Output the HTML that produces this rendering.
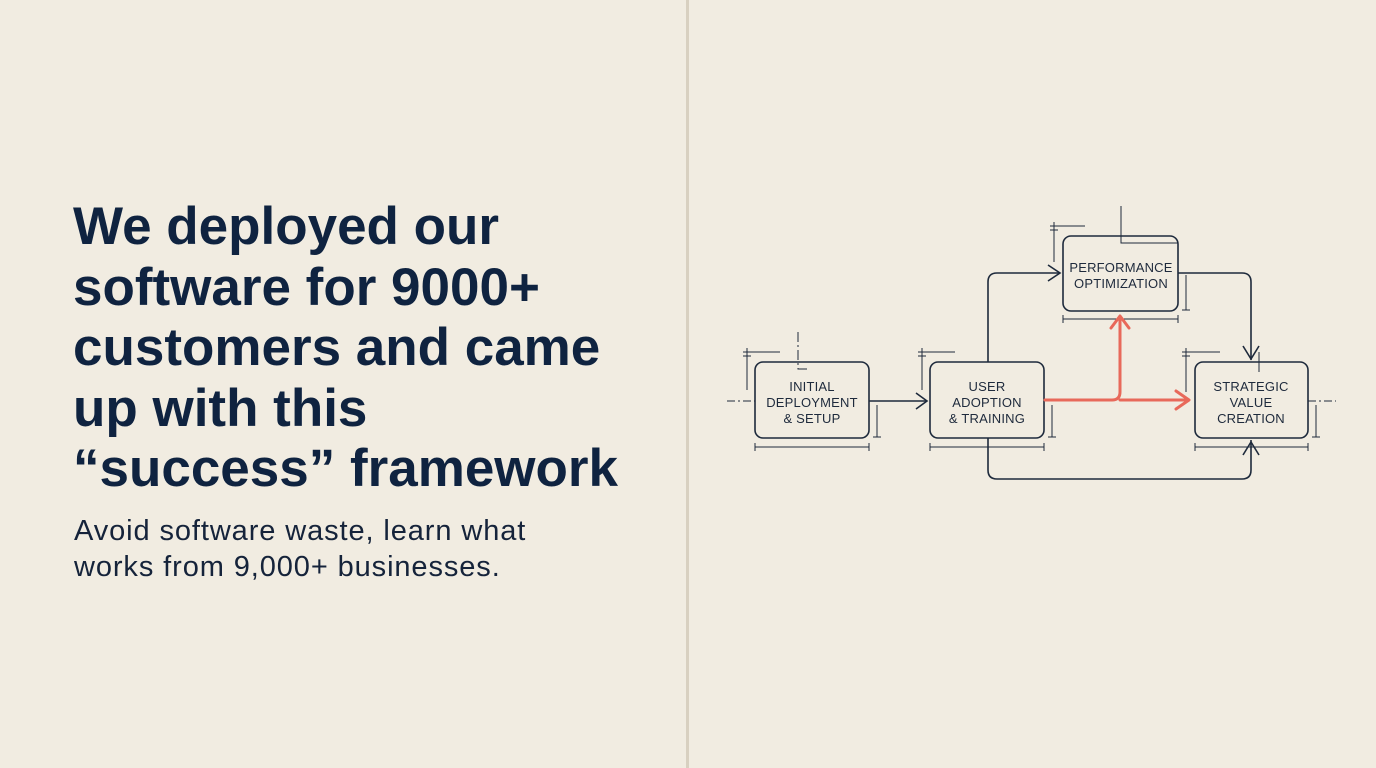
<!DOCTYPE html>
<html><head><meta charset="utf-8"><style>
html,body{margin:0;padding:0;}
body{width:1376px;height:768px;background:#f1ece1;position:relative;overflow:hidden;font-family:"Liberation Sans",sans-serif;}
.t{position:absolute;left:73px;top:197px;font-size:53px;font-weight:bold;line-height:60.5px;color:#0f2340;letter-spacing:0px;white-space:nowrap;}
.s{position:absolute;left:74px;top:513px;font-size:29px;line-height:36px;color:#15233a;letter-spacing:0.9px;white-space:nowrap;}
.d{position:absolute;left:686px;top:0;width:3px;height:768px;background:#d8d0c0;}
</style></head><body>
<div class="t">We deployed our<br>software for 9000+<br>customers and came<br>up with this<br>“success” framework</div>
<div class="s">Avoid software waste, learn what<br>works from 9,000+ businesses.</div>
<div class="d"></div>
<svg width="1376" height="768" style="position:absolute;left:0;top:0" font-family="Liberation Sans, sans-serif">
<g fill="none" stroke="#1e2a3c" stroke-width="1.6">
<rect x="755" y="362" width="114" height="76" rx="8"/>
<rect x="930" y="362" width="114" height="76" rx="8"/>
<rect x="1063" y="236" width="115" height="75" rx="8"/>
<rect x="1195" y="362" width="113" height="76" rx="8"/>
<path d="M869 401 H926"/><path d="M916 393 L927 401 L916 409"/>
<path d="M988 362 V282 Q988 273 997 273 H1060"/><path d="M1048 265 L1060 273 L1048 281"/>
<path d="M1178 273 H1242 Q1251 273 1251 282 V360"/><path d="M1243 346 L1251 359 L1259 346"/>
<path d="M988 438 V470 Q988 479 997 479 H1242 Q1251 479 1251 470 V440"/><path d="M1243 455 L1251 442 L1259 455"/>
<g stroke-width="1">
<path d="M755 447 H869 M755 443 V451 M869 443 V451"/>
<path d="M930 447 H1044 M930 443 V451 M1044 443 V451"/>
<path d="M1063 319 H1178 M1063 315 V323 M1178 315 V323"/>
<path d="M1195 447 H1308 M1195 443 V451 M1308 443 V451"/>
<path d="M743 352 H780 M747 348 V390 M743 356 H751"/>
<path d="M918 352 H955 M922 348 V390 M918 356 H926"/>
<path d="M1050 226 H1085 M1054 222 V262 M1050 230 H1058"/>
<path d="M1182 352 H1220 M1186 348 V392 M1182 356 H1190"/>
<path d="M877 405 V437 M873 437 H881"/>
<path d="M1052 405 V437 M1048 437 H1056"/>
<path d="M1186 275 V310 M1182 310 H1190"/>
<path d="M1316 405 V437 M1312 437 H1320"/>
<path d="M798 332 V369 H810" stroke-dasharray="10 3 2 3"/>
<path d="M1121 206 V243 H1178"/>
<path d="M1259 352 V372"/>
<path d="M727 401 H755" stroke-dasharray="8 3 2 3"/>
<path d="M1308 401 H1336" stroke-dasharray="8 3 2 3"/>
</g>
</g>
<g fill="none" stroke="#e8695a" stroke-width="3" stroke-linecap="round" stroke-linejoin="round">
<path d="M1045 400 H1112 Q1120 400 1120 392 V318"/>
<path d="M1111 328 L1120 316 L1129 328"/>
<path d="M1120 400 H1188"/>
<path d="M1176 391 L1189 400 L1176 409"/>
</g>
<g fill="#1e2a3c" font-size="13" text-anchor="middle" letter-spacing="0.2">
<text x="812" y="391">INITIAL</text><text x="812" y="407">DEPLOYMENT</text><text x="812" y="423">&amp; SETUP</text>
<text x="987" y="391">USER</text><text x="987" y="407">ADOPTION</text><text x="987" y="423">&amp; TRAINING</text>
<text x="1121" y="272">PERFORMANCE</text><text x="1121" y="288">OPTIMIZATION</text>
<text x="1251" y="391">STRATEGIC</text><text x="1251" y="407">VALUE</text><text x="1251" y="423">CREATION</text>
</g>
</svg>
</body></html>
